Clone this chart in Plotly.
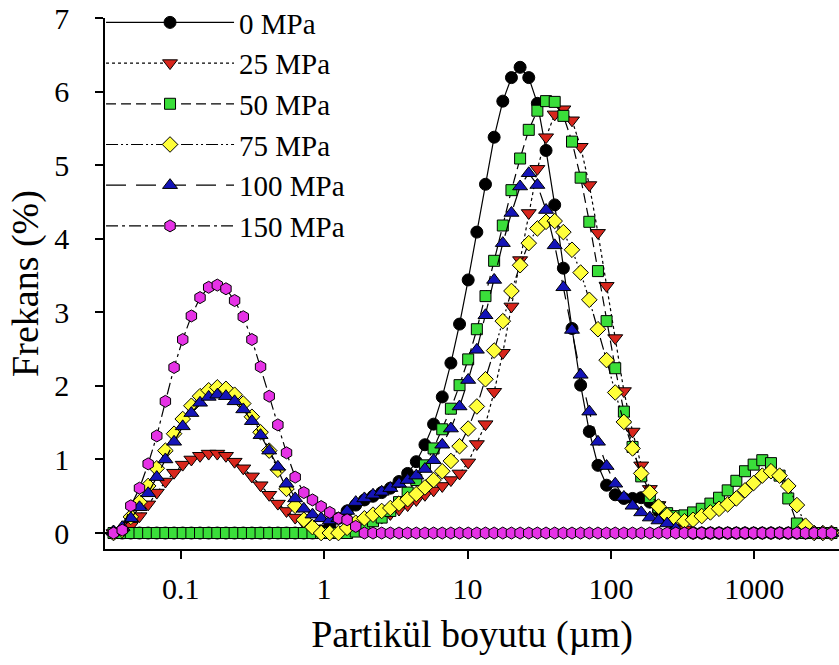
import plotly.graph_objects as go

# particle size bins (µm)
x_um = [0.0296, 0.0340, 0.0391, 0.0449, 0.0516, 0.0593, 0.0681, 0.0782, 0.0899, 0.1033,
        0.1187, 0.1364, 0.1567, 0.1800, 0.2068, 0.2376, 0.2731, 0.3138, 0.3605, 0.4142,
        0.4760, 0.5470, 0.6285, 0.7222, 0.8298, 0.9535, 1.096, 1.259, 1.447, 1.662,
        1.910, 2.194, 2.521, 2.897, 3.329, 3.825, 4.395, 5.050, 5.802, 6.667,
        7.661, 8.802, 10.11, 11.62, 13.35, 15.34, 17.63, 20.25, 23.27, 26.74,
        30.72, 35.30, 40.56, 46.61, 53.55, 61.52, 70.70, 81.23, 93.32, 107.2,
        123.2, 141.6, 162.7, 186.9, 214.7, 246.7, 283.5, 325.8, 374.3, 430.1,
        494.2, 567.8, 652.4, 749.7, 861.4, 989.5, 1137, 1307, 1501, 1725,
        1982, 2277, 2617, 3006, 3454]

mpa_0 = [0, 0, 0, 0, 0, 0, 0, 0, 0, 0,
         0, 0, 0, 0, 0, 0, 0, 0, 0, 0,
         0, 0, 0, 0, 0, 0.03, 0.10, 0.20, 0.30, 0.38,
         0.45, 0.50, 0.55, 0.61, 0.70, 0.81, 0.97, 1.20, 1.48, 1.85,
         2.31, 2.84, 3.44, 4.09, 4.74, 5.38, 5.87, 6.19, 6.33, 6.19,
         5.84, 5.20, 4.46, 3.60, 2.78, 2.01, 1.38, 0.92, 0.65, 0.52,
         0.47, 0.47, 0.48, 0.42, 0.30, 0.18, 0.08, 0.02, 0, 0,
         0, 0, 0, 0, 0, 0, 0, 0, 0, 0,
         0, 0, 0, 0, 0]

mpa_25 = [0, 0, 0.03, 0.10, 0.23, 0.39, 0.55, 0.70, 0.82, 0.93,
          1.00, 1.05, 1.08, 1.08, 1.05, 0.97, 0.88, 0.77, 0.65, 0.52,
          0.40, 0.30, 0.21, 0.14, 0.06, 0, 0, 0.01, 0.04, 0.08,
          0.12, 0.16, 0.21, 0.26, 0.32, 0.38, 0.45, 0.52, 0.58, 0.64,
          0.72, 0.81, 0.96, 1.21, 1.48, 1.92, 2.45, 3.08, 3.71, 4.35,
          4.95, 5.38, 5.69, 5.76, 5.61, 5.25, 4.73, 4.08, 3.36, 2.65,
          1.93, 1.38, 0.92, 0.60, 0.38, 0.22, 0.12, 0.05, 0, 0,
          0, 0, 0, 0, 0, 0, 0, 0, 0, 0,
          0, 0, 0, 0, 0]

mpa_50 = [0, 0, 0, 0, 0, 0, 0, 0, 0, 0,
          0, 0, 0, 0, 0, 0, 0, 0, 0, 0,
          0, 0, 0, 0, 0, 0, 0, 0, 0, 0.02,
          0.10, 0.16, 0.21, 0.30, 0.42, 0.55, 0.72, 0.92, 1.15, 1.41,
          1.69, 2.01, 2.36, 2.77, 3.22, 3.70, 4.18, 4.66, 5.09, 5.48,
          5.74, 5.87, 5.86, 5.67, 5.32, 4.83, 4.23, 3.56, 2.88, 2.24,
          1.65, 1.17, 0.77, 0.49, 0.35, 0.27, 0.23, 0.24, 0.28, 0.33,
          0.40, 0.48, 0.58, 0.71, 0.84, 0.93, 0.99, 0.95, 0.78, 0.47,
          0.13, 0, 0, 0, 0]

mpa_75 = [0, 0, 0.04, 0.22, 0.42, 0.64, 0.88, 1.12, 1.35, 1.55,
          1.73, 1.86, 1.94, 1.98, 1.96, 1.88, 1.76, 1.58, 1.37, 1.12,
          0.86, 0.60, 0.37, 0.18, 0.08, 0, 0, 0, 0.07, 0.14,
          0.20, 0.25, 0.30, 0.34, 0.40, 0.46, 0.53, 0.62, 0.72, 0.84,
          0.98, 1.18, 1.42, 1.72, 2.09, 2.48, 2.88, 3.29, 3.64, 3.94,
          4.14, 4.23, 4.24, 4.09, 3.85, 3.54, 3.17, 2.77, 2.35, 1.91,
          1.51, 1.15, 0.81, 0.55, 0.36, 0.24, 0.19, 0.16, 0.18, 0.23,
          0.28, 0.33, 0.39, 0.47, 0.58, 0.68, 0.78, 0.84, 0.78, 0.64,
          0.38, 0.10, 0, 0, 0]

mpa_100 = [0, 0.02, 0.08, 0.20, 0.35, 0.54, 0.76, 1.00, 1.24, 1.45,
           1.63, 1.77, 1.85, 1.88, 1.86, 1.79, 1.68, 1.52, 1.33, 1.12,
           0.90, 0.67, 0.47, 0.33, 0.25, 0.20, 0.17, 0.20, 0.30, 0.42,
           0.47, 0.52, 0.56, 0.61, 0.67, 0.72, 0.78, 0.87, 0.99, 1.20,
           1.42, 1.72, 2.08, 2.49, 2.96, 3.44, 3.94, 4.35, 4.71, 4.89,
           4.73, 4.39, 3.91, 3.34, 2.76, 2.15, 1.65, 1.24, 0.91, 0.67,
           0.49, 0.37, 0.28, 0.21, 0.17, 0.13, 0.06, 0, 0, 0,
           0, 0, 0, 0, 0, 0, 0, 0, 0, 0,
           0, 0, 0, 0, 0]

mpa_150 = [0, 0, 0.04, 0.37, 0.61, 0.94, 1.32, 1.79, 2.25, 2.63,
           2.95, 3.20, 3.34, 3.37, 3.32, 3.16, 2.94, 2.63, 2.26, 1.86,
           1.47, 1.09, 0.76, 0.55, 0.45, 0.36, 0.28, 0.20, 0.18, 0.09,
           0, 0, 0, 0, 0, 0, 0, 0, 0, 0,
           0, 0, 0, 0, 0, 0, 0, 0, 0, 0,
           0, 0, 0, 0, 0, 0, 0, 0, 0, 0,
           0, 0, 0, 0, 0, 0, 0, 0, 0, 0,
           0, 0, 0, 0, 0, 0, 0, 0, 0, 0,
           0, 0, 0, 0, 0]

series_names = ["0 MPa", "25 MPa", "50 MPa", "75 MPa", "100 MPa", "150 MPa"]
series_values = [mpa_0, mpa_25, mpa_50, mpa_75, mpa_100, mpa_150]

x_tick_vals = [0.1, 1, 10, 100, 1000]
x_tick_text = ["0.1", "1", "10", "100", "1000"]
y_tick_vals = [0, 1, 2, 3, 4, 5, 6, 7]

styles = [
    dict(symbol="circle", color="#000000", dash="solid", size=12),
    dict(symbol="triangle-down", color="#d8261c", dash="dot", size=13),
    dict(symbol="square", color="#3ade3a", dash="10px,5px", size=11),
    dict(symbol="diamond", color="#ffff3a", dash="12px,3px,2px,3px,2px,3px", size=12),
    dict(symbol="triangle-up", color="#1414b8", dash="20px,10px", size=13),
    dict(symbol="hexagon", color="#e632e6", dash="12px,4px,3px,4px", size=12),
]

fig = go.Figure()
for name, vals, st in zip(series_names, series_values, styles):
    fig.add_trace(go.Scatter(
        x=x_um, y=vals, name=name, mode="lines+markers",
        line=dict(color="black", width=1.2, dash=st["dash"]),
        marker=dict(symbol=st["symbol"], color=st["color"], size=st["size"],
                    line=dict(color="black", width=1)),
        cliponaxis=False,
    ))

FONT = "Liberation Serif, Times New Roman, serif"
fig.update_layout(
    width=839, height=665,
    margin=dict(l=105, r=0, t=18, b=116, autoexpand=False),
    plot_bgcolor="white", paper_bgcolor="white",
    font=dict(family=FONT, color="black"),
    showlegend=True,
    legend=dict(x=-0.0054, y=1.0395, xanchor="left", yanchor="top",
                bgcolor="rgba(0,0,0,0)", borderwidth=0,
                font=dict(family=FONT, size=29, color="black"),
                itemwidth=128, tracegroupgap=0),
    xaxis=dict(type="log", range=[-1.5279, 3.5907], automargin=False,
               tickvals=x_tick_vals, ticktext=x_tick_text,
               ticks="outside", ticklen=8, tickwidth=1.5, tickcolor="black",
               ticklabelstandoff=4,
               showline=True, linewidth=1.5, linecolor="black",
               showgrid=False, zeroline=False,
               tickfont=dict(family=FONT, size=30, color="black"),
               title=dict(text="Partikül boyutu (µm)", standoff=17,
                          font=dict(family=FONT, size=38, color="black"))),
    yaxis=dict(range=[-0.217, 7], tickvals=y_tick_vals, automargin=False,
               ticks="outside", ticklen=8, tickwidth=1.5, tickcolor="black",
               ticklabelstandoff=20,
               showline=True, linewidth=1.5, linecolor="black",
               showgrid=False, zeroline=False,
               tickfont=dict(family=FONT, size=30, color="black"),
               title=dict(text="Frekans (%)", standoff=4,
                          font=dict(family=FONT, size=38, color="black"))),
)

fig.write_html("out.html", config={"displayModeBar": False})

# remove the browser's default page margin so the figure sits at the window origin
with open("out.html", encoding="utf-8") as fh:
    page = fh.read()
page = page.replace("<head>", "<head><style>html,body{margin:0;padding:0;}</style>", 1)
with open("out.html", "w", encoding="utf-8") as fh:
    fh.write(page)
